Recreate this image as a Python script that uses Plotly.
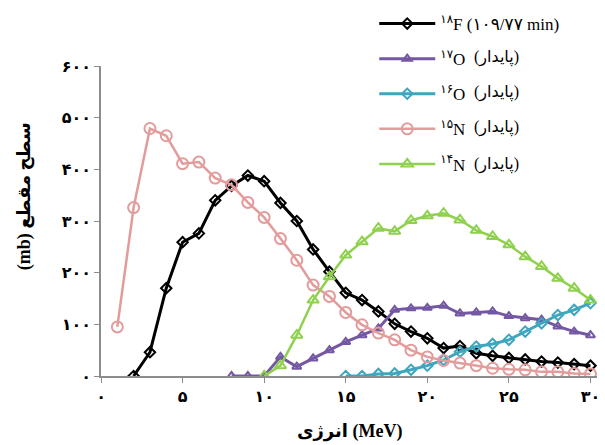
import plotly.graph_objects as go

# Energies (MeV) and cross sections (mb)
E_18F = list(range(2, 31))
F18 = [0, 46, 170, 259, 276, 340, 368, 388, 377, 335, 300, 245, 202, 161, 147,
       125, 101, 86, 73, 54, 58, 44, 39, 35, 32, 28, 26, 23, 20]

E_17O = list(range(8, 31))
O17 = [0, 0, 0, 37, 18, 34, 50, 66, 79, 92, 128, 131, 132, 136, 121, 123, 125,
       116, 112, 109, 96, 86, 79]

E_16O = list(range(15, 31))
O16 = [0, 0, 4, 5, 12, 20, 31, 47, 57, 62, 70, 86, 102, 118, 128, 141]

E_15N = list(range(1, 31))
N15 = [95, 326, 479, 465, 411, 414, 383, 370, 336, 307, 266, 224, 176, 154, 123,
       99, 83, 70, 50, 37, 30, 25, 20, 15, 13, 12, 8, 8, 5, 4]

E_14N = list(range(10, 31))
N14 = [0, 20, 79, 147, 192, 234, 260, 286, 280, 301, 310, 315, 302, 282, 270,
       254, 231, 212, 189, 170, 147]

# legend labels: isotope part (legend) + "stable" note (text next to it)
names = ["<sup>۱۸</sup>F (۱۰۹/۷۷ min)", "<sup>۱۷</sup>O", "<sup>۱۶</sup>O",
         "<sup>۱۵</sup>N", "<sup>۱۴</sup>N"]
stable_note = "(پایدار)"

x_tickvals = [0, 5, 10, 15, 20, 25, 30]
x_ticktext = ["۰", "۵", "۱۰", "۱۵", "۲۰", "۲۵", "۳۰"]
y_tickvals = [0, 100, 200, 300, 400, 500, 600]
y_ticktext = ["۰", "۱۰۰", "۲۰۰", "۳۰۰", "۴۰۰", "۵۰۰", "۶۰۰"]

x_title = "انرژی (MeV)"
y_title = "(mb) سطح مقطع"

FONT = "Liberation Serif, Times New Roman, DejaVu Sans, serif"

series = [
    (E_18F, F18, names[0], "#000000", "diamond-open", 8, 3),
    (E_17O, O17, names[1], "#7458a3", "triangle-up-open", 8, 3),
    (E_16O, O16, names[2], "#3ea6bf", "diamond-open", 8, 3),
    (E_15N, N15, names[3], "#e39c9c", "circle-open", 11, 2.5),
    (E_14N, N14, names[4], "#8fd14f", "triangle-up-open", 10, 2.5),
]

fig = go.Figure()
for i, (x, y, name, color, sym, size, lw) in enumerate(series):
    fig.add_trace(go.Scatter(
        x=x, y=y, name=name, mode="lines+markers",
        line=dict(color=color, width=lw),
        marker=dict(symbol=sym, size=size, color=color,
                    line=dict(color=color, width=2)),
        legendgroup=f"g{i}",
    ))

annotations = [
    dict(text="<b>" + x_title + "</b>", xref="paper", yref="paper",
         x=0.5, y=-0.18, xanchor="center", yanchor="middle",
         showarrow=False, font=dict(family=FONT, size=18, color="black")),
    dict(text="<b>" + y_title + "</b>", xref="paper", yref="paper",
         x=-0.155, y=0.58, xanchor="center", yanchor="middle",
         textangle=-90, showarrow=False,
         font=dict(family=FONT, size=18, color="black")),
]
for yy in [1.029, 0.916, 0.800, 0.681]:
    annotations.append(dict(
        text=stable_note, xref="paper", yref="paper", x=0.748, y=yy,
        xanchor="left", yanchor="middle", showarrow=False,
        font=dict(family=FONT, size=16, color="black")))

fig.update_layout(
    width=605, height=445,
    margin=dict(l=101, r=8, t=66, b=69, autoexpand=False),
    paper_bgcolor="white", plot_bgcolor="white",
    font=dict(family=FONT, color="black", size=14),
    showlegend=True,
    legend=dict(
        xref="container", yref="container",
        x=0.6186, y=0.9865, xanchor="left", yanchor="top",
        bgcolor="rgba(255,255,255,0)",
        font=dict(family=FONT, size=17, color="black"),
        itemwidth=56, tracegroupgap=10,
    ),
    xaxis=dict(
        range=[0, 30.4], tickvals=x_tickvals, ticktext=x_ticktext,
        showgrid=False, zeroline=False, showline=True, linecolor="#8c8c8c",
        linewidth=1.5, ticks="outside", ticklen=5, tickcolor="#8c8c8c",
        tickfont=dict(family=FONT, size=16, color="black", weight="bold"),
        automargin=False,
    ),
    yaxis=dict(
        range=[0, 600], tickvals=y_tickvals, ticktext=y_ticktext,
        showgrid=False, zeroline=False, showline=True, linecolor="#8c8c8c",
        linewidth=1.5, ticks="outside", ticklen=5, tickcolor="#8c8c8c",
        tickfont=dict(family=FONT, size=16, color="black", weight="bold"),
        automargin=False,
    ),
    annotations=annotations,
)

fig.write_html(
    "out.html",
    config={"displayModeBar": False},
    post_script="document.body.style.margin='0';document.body.style.overflow='hidden';",
)
